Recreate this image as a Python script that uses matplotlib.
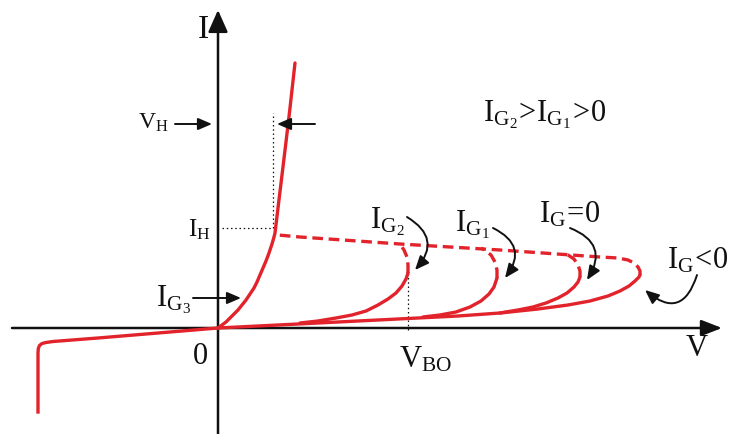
import matplotlib
matplotlib.use("Agg")
import matplotlib.pyplot as plt
from matplotlib.patches import FancyArrowPatch

# ---- characteristic curves (V, I) in drawing units ----
on_state_V = [0, 4, 8, 12, 16, 20, 24, 28, 32, 36, 39, 42, 45, 48, 51, 54, 56, 57, 60, 64, 68, 72, 77]
on_state_I = [0, 3, 6, 10, 14, 18, 23, 28, 34, 40, 46, 53, 60, 67, 75, 84, 91, 95, 120, 153, 186, 220, 265]

reverse_V = [0, -60, -120, -165, -172, -176, -178.5, -179.7, -180, -180]
reverse_I = [0, -5, -10, -13.5, -14.5, -15.5, -17.5, -20.5, -25, -84]

# forward blocking, I_G < 0 (solid) and the negative-resistance return (dashed)
neg_solid_V = [0, 60, 120, 180, 240, 282, 320, 350, 372, 390, 402, 411, 417, 421, 422]
neg_solid_I = [0, 3, 6, 9, 12, 15, 19, 23, 27, 32, 37, 42, 47, 51, 53]
neg_dash_V = [422, 422, 420, 416, 410, 400, 382, 282, 182, 82, 60]
neg_dash_I = [53, 57, 61, 65, 68, 70, 71, 78, 84, 91, 93]

# I_G = 0
g0_solid_V = [282, 300, 315, 328, 340, 349, 356, 360, 362]
g0_solid_I = [15, 18, 21, 25, 30, 35, 41, 46, 51]
g0_dash_V = [362, 362, 360, 356, 350, 345]
g0_dash_I = [51, 57, 63, 69, 73, 75]

# I_G1
g1_solid_V = [205, 222, 238, 252, 263, 271, 276, 279]
g1_solid_I = [11, 13, 16, 21, 27, 34, 41, 50]
g1_dash_V = [279, 279, 277, 273, 268, 263]
g1_dash_I = [50, 58, 66, 73, 77, 80]

# I_G2
g2_solid_V = [82, 100, 118, 134, 148, 160, 170, 178, 184, 188, 190]
g2_solid_I = [5, 7, 10, 13, 17, 23, 29, 35, 42, 49, 55]
g2_dash_V = [190, 190, 189, 186, 182]
g2_dash_I = [55, 63, 71, 78, 84]

V_BO = 190
I_H = 100
V_H = 55

RED = "#e2232b"
BLACK = "#111111"

plt.rcParams["mathtext.fontset"] = "custom"
plt.rcParams["mathtext.rm"] = "Liberation Serif"
plt.rcParams["mathtext.it"] = "Liberation Serif"
plt.rcParams["font.family"] = "Liberation Serif"

fig = plt.figure(figsize=(7.32, 4.34), dpi=100)
ax = fig.add_axes([0, 0, 1, 1])
ax.set_xlim(-218, 514)
ax.set_ylim(-106, 328)
ax.axis("off")

# axes with arrowheads
ax.add_patch(FancyArrowPatch((-206, 0), (504, 0), arrowstyle="-|>,head_length=0.9,head_width=0.35",
                             mutation_scale=14, lw=1.8, color=BLACK, shrinkA=0, shrinkB=0, zorder=2))
ax.add_patch(FancyArrowPatch((0, -106), (0, 318), arrowstyle="-|>,head_length=0.9,head_width=0.4",
                             mutation_scale=15, lw=1.8, color=BLACK, shrinkA=0, shrinkB=0, zorder=2))

lw = 2.4
dash = (0, (3.2, 1.7))
ax.plot(on_state_V, on_state_I, color=RED, lw=lw, solid_capstyle="round",
        solid_joinstyle="round", zorder=3)
ax.plot(reverse_V, reverse_I, color=RED, lw=lw, solid_joinstyle="round", zorder=3)
for sv, si, dv, di in [(neg_solid_V, neg_solid_I, neg_dash_V, neg_dash_I),
                       (g0_solid_V, g0_solid_I, g0_dash_V, g0_dash_I),
                       (g1_solid_V, g1_solid_I, g1_dash_V, g1_dash_I),
                       (g2_solid_V, g2_solid_I, g2_dash_V, g2_dash_I)]:
    ax.plot(sv, si, color=RED, lw=lw, solid_capstyle="round", solid_joinstyle="round", zorder=3)
    ax.plot(dv, di, color=RED, lw=lw, linestyle=dash, zorder=3)

# dotted guide lines
dot = dict(color=BLACK, lw=0.9, linestyle=(0, (1.2, 2.2)), zorder=2)
ax.plot([4, V_H], [I_H, I_H], **dot)
ax.plot([V_H, V_H], [I_H, 215], **dot)
ax.plot([V_BO, V_BO], [-2, 55], **dot)


def straight_arrow(p0, p1):
    ax.add_patch(FancyArrowPatch(p0, p1, arrowstyle="-|>,head_length=0.7,head_width=0.3",
                                 mutation_scale=12, lw=1.4, color=BLACK,
                                 shrinkA=0, shrinkB=0, zorder=4))


def curved_arrow(p0, p1, rad):
    ax.add_patch(FancyArrowPatch(p0, p1, connectionstyle=f"arc3,rad={rad}",
                                 arrowstyle="-|>,head_length=0.7,head_width=0.3",
                                 mutation_scale=12, lw=1.4, color=BLACK,
                                 shrinkA=0, shrinkB=0, zorder=4))


straight_arrow((-43, 204), (-6, 204))
straight_arrow((97, 204), (59, 204))
straight_arrow((-25, 30), (23, 30))

curved_arrow((189, 111), (197, 58), -0.6)
curved_arrow((275, 100), (287, 50), -0.6)
curved_arrow((352, 100), (369, 48), -0.6)
curved_arrow((479, 53), (427, 38), -0.75)

fs = 22
txt = dict(color=BLACK, fontsize=fs, zorder=5)
ax.text(-15, 298, "I", ha="center", va="center", color=BLACK, fontsize=24, zorder=5)
ax.text(479, -21, "V", ha="center", va="center", **txt)
ax.text(-18, -28, "0", ha="center", va="center", **txt)
ax.text(208, -32, r"$\mathrm{V_{BO}}$", ha="center", va="center", **txt)
ax.text(-49, 205, r"$\mathrm{V_{H}}$", ha="right", va="center", color=BLACK, fontsize=17, zorder=5)
ax.text(-7, 98, r"$\mathrm{I_{H}}$", ha="right", va="center", color=BLACK, fontsize=18, zorder=5)
ax.text(-27, 28, r"$\mathrm{I_{G_3}}$", ha="right", va="center", **txt)
ax.text(169, 106, r"$\mathrm{I_{G_2}}$", ha="center", va="center", **txt)
ax.text(254, 103, r"$\mathrm{I_{G_1}}$", ha="center", va="center", **txt)
ax.text(352, 113, r"$\mathrm{I_G\!=\!0}$", ha="center", va="center", **txt)
ax.text(480, 67, r"$\mathrm{I_G\!<\!0}$", ha="center", va="center", **txt)
ax.text(327, 213, r"$\mathrm{I_{G_2}\!>\!I_{G_1}\!>\!0}$", ha="center", va="center", **txt)

fig.savefig("out.png", dpi=100, facecolor="white")
